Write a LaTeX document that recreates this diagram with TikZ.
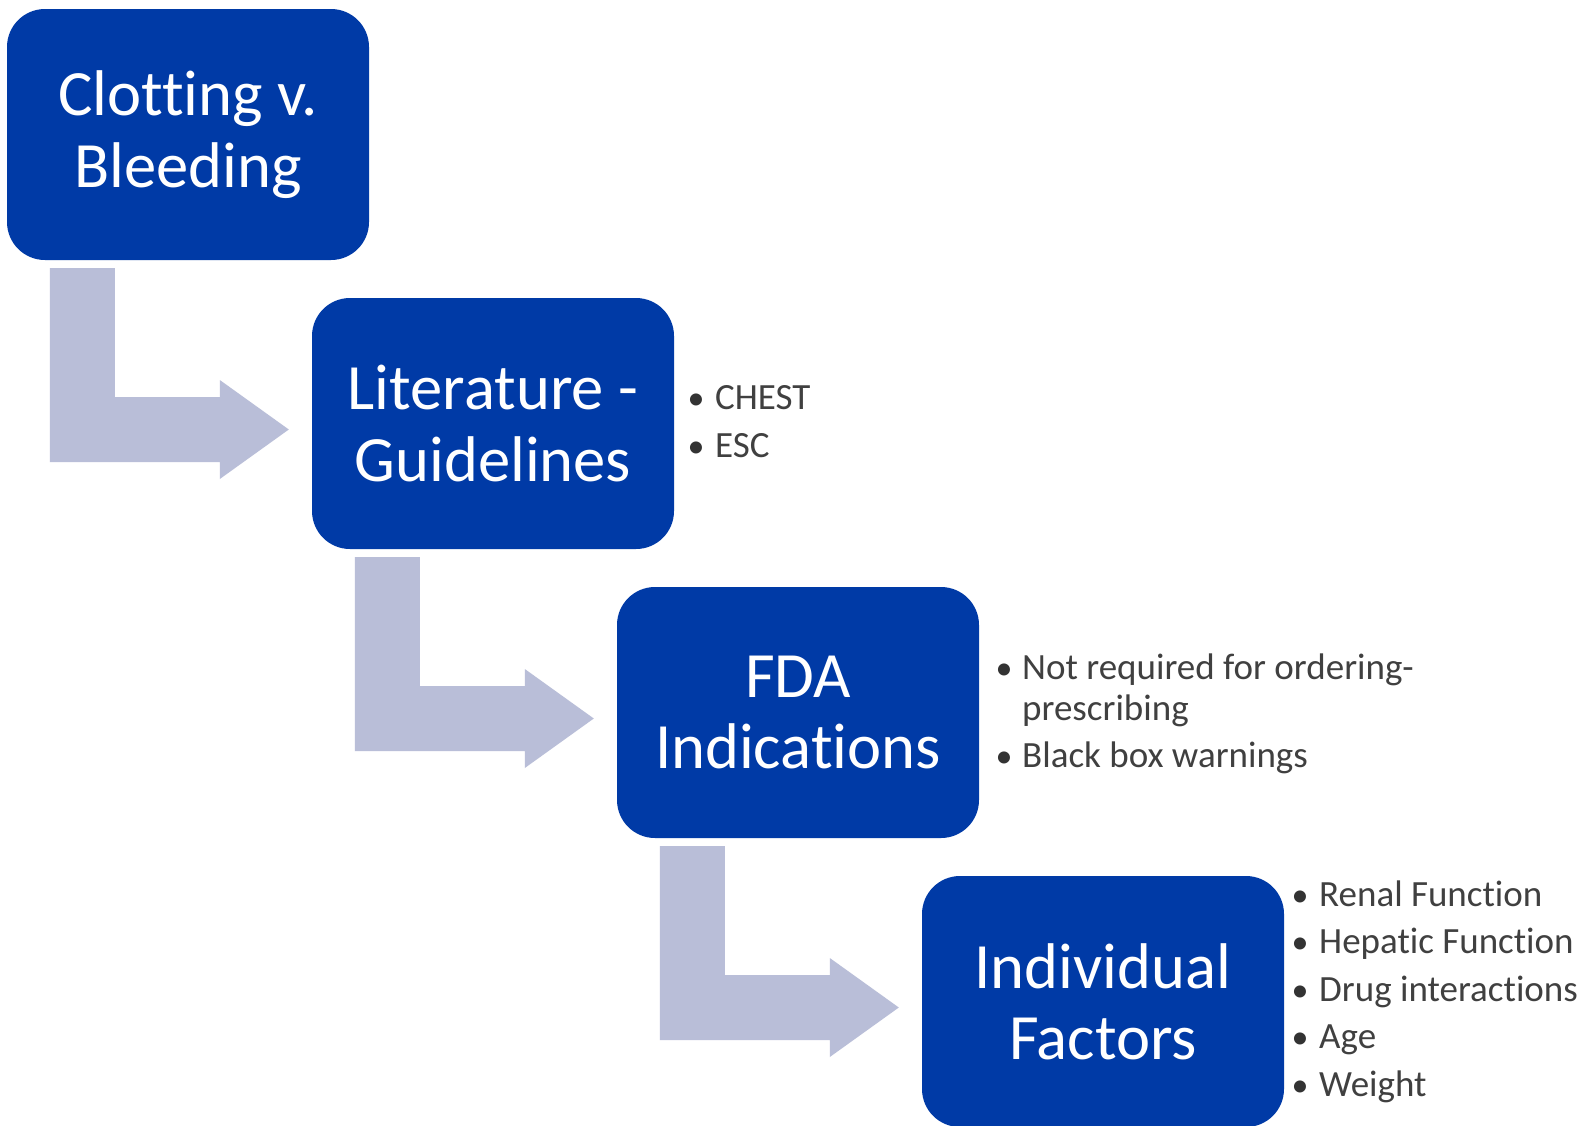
\documentclass[tikz,border=0pt]{standalone}
\usepackage{fontspec}
\setmainfont{Carlito}[Ligatures={NoCommon,NoContextual}]
\usetikzlibrary{calc}
\definecolor{boxblue}{RGB}{0,58,166}
\definecolor{arrowgray}{RGB}{185,190,216}
\definecolor{itemgray}{RGB}{64,64,64}
\tikzset{
  stepbox/.style={fill=boxblue, draw=none, rounded corners=38pt, minimum width=362pt,
    minimum height=251pt, inner sep=0pt, text=white, align=center,
    font=\fontsize{64.6}{71.3}\selectfont},
  itemtext/.style={anchor=base west, inner sep=0pt, text=itemgray,
    font=\fontsize{37}{41}\selectfont},
  itemdot/.style={anchor=base, inner sep=0pt, text=itemgray!80!black,
    font=\fontsize{34}{41}\selectfont},
  flowfill/.style={fill=arrowgray, draw=none}
}
\newcommand\flowarrow[2]{%
  \fill[flowfill] ($(#2.west)+(-262,-155.5)$) -- ($(#2.west)+(-197,-155.5)$)
    -- ($(#2.west)+(-197,-26.5)$) -- ($(#2.west)+(-92,-26.5)$)
    -- ($(#2.west)+(-92,-43.5)$) -- ($(#2.west)+(-23,6)$)
    -- ($(#2.west)+(-92,55.5)$) -- ($(#2.west)+(-92,38.5)$)
    -- ($(#2.west)+(-262,38.5)$) -- cycle;}
\begin{document}
\begin{tikzpicture}[x=1pt,y=-1pt]
\useasboundingbox (0,0) rectangle (1596,1125);
\fill[white] (0,0) rectangle (1596,1125);

\node[stepbox] (b1) at (188,134.5) {Clotting v.\\Bleeding};
\node[stepbox] (b2) at (493,423.5) {Literature -\\Guidelines};
\node[stepbox] (b3) at (798,712.5) {FDA\\Indications};
\node[stepbox] (b4) at (1103,1001.5) {Individual\\Factors};

\flowarrow{b1}{b2}
\flowarrow{b2}{b3}
\flowarrow{b3}{b4}

% Literature bullets
\node[itemdot] (d21) at (696,409) {•};
\node[itemtext] (t21) at (715,409) {CHEST};
\node[itemdot] (d22) at (696,457) {•};
\node[itemtext] (t22) at (715,457) {ESC};

% FDA bullets
\node[itemdot] (d31) at (1004,679) {•};
\node[itemtext] (t31) at (1022,679) {Not required for ordering-};
\node[itemtext] (t31b) at (1022,720) {prescribing};
\node[itemdot] (d32) at (1004,767) {•};
\node[itemtext] (t32) at (1022,767) {Black box warnings};

% Individual bullets
\node[itemdot] (d41) at (1300,906) {•};
\node[itemtext] (t41) at (1319,906) {Renal Function};
\node[itemdot] (d42) at (1300,953.5) {•};
\node[itemtext] (t42) at (1319,953.5) {Hepatic Function};
\node[itemdot] (d43) at (1300,1001) {•};
\node[itemtext] (t43) at (1319,1001) {Drug interactions};
\node[itemdot] (d44) at (1300,1048.5) {•};
\node[itemtext] (t44) at (1319,1048.5) {Age};
\node[itemdot] (d45) at (1300,1096) {•};
\node[itemtext] (t45) at (1319,1096) {Weight};
\end{tikzpicture}
\end{document}
